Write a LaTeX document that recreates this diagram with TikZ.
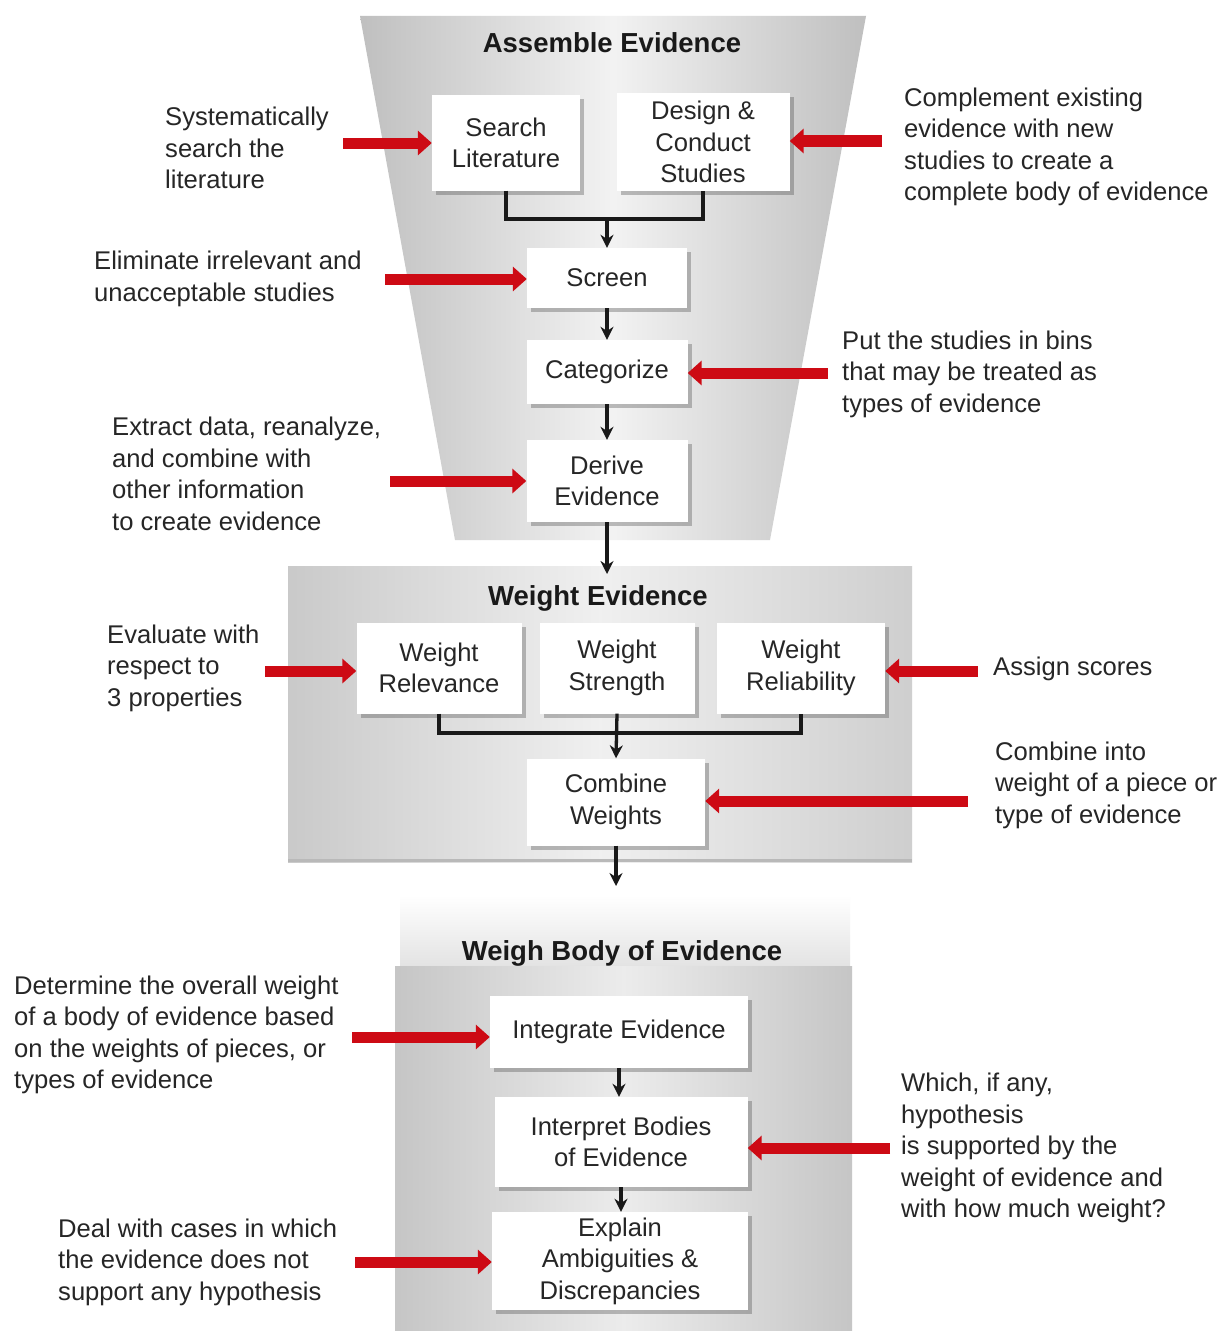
\documentclass[tikz,border=0pt]{standalone}
\usepackage{fontspec}
\setmainfont{Liberation Sans}
\usetikzlibrary{arrows.meta,shadows,calc}
\begin{document}
\begin{tikzpicture}[x=1pt,y=-1pt,
 txt/.style={font=\fontsize{25.6}{31.5}\selectfont, text=black!85, inner sep=0pt, align=left},
 box/.style={fill=white, font=\fontsize{25.6}{31.5}\selectfont, text=black!85, align=center, inner sep=0pt,
   drop shadow={shadow xshift=4pt, shadow yshift=-4pt, opacity=0.35, fill=black!70}},
 ttl/.style={font=\bfseries\fontsize{27.5}{32}\selectfont, text=black!90, inner sep=0pt},
 conn/.style={line width=3.3pt, black!90},
 flow/.style={conn, -{Stealth[length=13pt,width=13pt]}},
 feed/.style={line width=11pt, draw={rgb,255:red,205;green,10;blue,20}, -{Triangle[length=14pt,width=24pt]}}
]
\useasboundingbox[fill=white] (0,0) rectangle (1230,1335);

% panels
\shade[left color=gray!50, right color=gray!50, middle color=gray!10]
  (360,16) -- (866,16) -- (770,540) -- (455,540) -- cycle;
\shade[left color=gray!42, right color=gray!38, middle color=gray!12]
  (288,566) rectangle (912,862);
\draw[gray!55, line width=3pt] (288,860) -- (912,860);
\shade[top color=white, bottom color=gray!22] (400,895) rectangle (850,966);
\shade[left color=gray!45, right color=gray!45, middle color=gray!15]
  (395,966) rectangle (852,1330);

% titles
\node[ttl] (t1) at (612,43) {Assemble Evidence};
\node[ttl] (t2) at (598,598) {Weight Evidence};
\node[ttl] (t3) at (622,953) {Weigh Body of Evidence};

% boxes
\node[box, minimum width=148pt, minimum height=95pt] (sl) at (506,143) {Search\\Literature};
\node[box, minimum width=173pt, minimum height=97pt] (dc) at (703,142) {Design \&\\Conduct\\Studies};
\node[box, minimum width=160pt, minimum height=60pt] (scr) at (607,278) {Screen};
\node[box, minimum width=161pt, minimum height=64pt] (cat) at (607,372) {Categorize};
\node[box, minimum width=161pt, minimum height=82pt] (der) at (607,481) {Derive\\Evidence};
\node[box, minimum width=165pt, minimum height=91pt] (wrel) at (439,668) {Weight\\Relevance};
\node[box, minimum width=155pt, minimum height=91pt] (wstr) at (617,668) {Weight\\Strength};
\node[box, minimum width=168pt, minimum height=91pt] (wrl) at (801,668) {Weight\\Reliability};
\node[box, minimum width=178pt, minimum height=87pt] (cw) at (616,802) {Combine\\Weights};
\node[box, minimum width=258pt, minimum height=72pt] (ie) at (619,1032) {Integrate Evidence};
\node[box, minimum width=253pt, minimum height=90pt] (ib) at (621,1142) {Interpret Bodies\\of Evidence};
\node[box, minimum width=256pt, minimum height=98pt] (ea) at (620,1261) {Explain\\Ambiguities \&\\Discrepancies};

% black connectors
\coordinate (j1) at (607,219);
\draw[conn] (sl.south) |- (j1) -| (dc.south);
\draw[flow] (j1) -- (scr.north);
\draw[flow] (scr.south) -- (cat.north);
\draw[flow] (cat.south) -- (der.north);
\coordinate (e1) at (607,574);
\draw[flow] (der.south) -- (e1);
\coordinate (j2) at (617,733);
\draw[conn] (wrel.south) |- (j2) -| (wrl.south);
\draw[flow] (wstr.south) -- (cw.north);
\coordinate (e2) at (616,886);
\draw[flow] (cw.south) -- (e2);
\draw[flow] (ie.south) -- (ie.south |- ib.north);
\draw[flow] (ib.south) -- (ib.south |- ea.north);

% red feed arrows
\coordinate (a1) at (343,143);
\draw[feed] (a1) -- (a1 -| sl.west);
\coordinate (a2) at (882,141);
\draw[feed] (a2) -- (a2 -| dc.east);
\coordinate (a3) at (385,279);
\draw[feed] (a3) -- (a3 -| scr.west);
\coordinate (a4) at (828,373);
\draw[feed] (a4) -- (a4 -| cat.east);
\coordinate (a5) at (390,481);
\draw[feed] (a5) -- (a5 -| der.west);
\coordinate (a6) at (265,671);
\draw[feed] (a6) -- (a6 -| wrel.west);
\coordinate (a7) at (978,671);
\draw[feed] (a7) -- (a7 -| wrl.east);
\coordinate (a8) at (968,801);
\draw[feed] (a8) -- (a8 -| cw.east);
\coordinate (a9) at (352,1037);
\draw[feed] (a9) -- (a9 -| ie.west);
\coordinate (a10) at (890,1148);
\draw[feed] (a10) -- (a10 -| ib.east);
\coordinate (a11) at (355,1262);
\draw[feed] (a11) -- (a11 -| ea.west);

% side texts
\node[txt, anchor=west] (l1) at (165,148) {Systematically\\search the\\literature};
\node[txt, anchor=west] (l2) at (94,279) {Eliminate irrelevant and\\unacceptable studies};
\node[txt, anchor=west] (l3) at (112,474) {Extract data, reanalyze,\\and combine with\\other information\\to create evidence};
\node[txt, anchor=west] (l4) at (107,668) {Evaluate with\\respect to\\3 properties};
\node[txt, anchor=west] (l5) at (14,1035) {Determine the overall weight\\of a body of evidence based\\on the weights of pieces, or\\types of evidence};
\node[txt, anchor=west] (l6) at (58,1262) {Deal with cases in which\\the evidence does not\\support any hypothesis};
\node[txt, anchor=west] (r1) at (904,147) {Complement existing\\evidence with new\\studies to create a\\complete body of evidence};
\node[txt, anchor=west] (r2) at (842,374) {Put the studies in bins\\that may be treated as\\types of evidence};
\node[txt, anchor=west] (r3) at (993,669) {Assign scores};
\node[txt, anchor=west] (r4) at (995,785) {Combine into\\weight of a piece or\\type of evidence};
\node[txt, anchor=west] (r5) at (901,1148) {Which, if any,\\hypothesis\\is supported by the\\weight of evidence and\\with how much weight?};
\end{tikzpicture}
\end{document}
